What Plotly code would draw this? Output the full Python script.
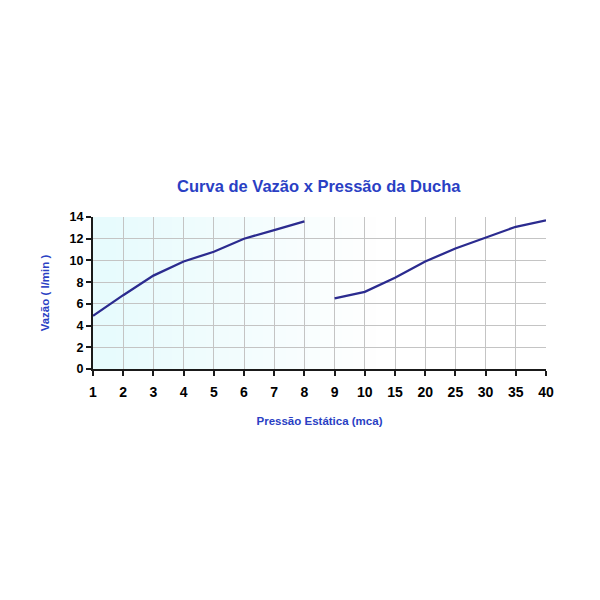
import plotly.graph_objects as go

# pressure categories (mca), evenly spaced on the axis
pressao_1 = ["1", "2", "3", "4", "5", "6", "7", "8"]
vazao_1 = [4.9, 6.8, 8.6, 9.9, 10.8, 12.0, 12.8, 13.6]

pressao_2 = ["9", "10", "15", "20", "25", "30", "35", "40"]
vazao_2 = [6.5, 7.1, 8.4, 9.9, 11.1, 12.1, 13.1, 13.7]

categorias = pressao_1 + pressao_2
y_ticks = [0, 2, 4, 6, 8, 10, 12, 14]

line_color = "#2b2b8f"
blue_text = "#2a3fc4"

fig = go.Figure()
fig.add_trace(go.Scatter(x=pressao_1, y=vazao_1, mode="lines",
                         line=dict(color=line_color, width=2.3), showlegend=False))
fig.add_trace(go.Scatter(x=pressao_2, y=vazao_2, mode="lines",
                         line=dict(color=line_color, width=2.3), showlegend=False))

# light cyan -> white horizontal gradient behind the grid
n = 40
shapes = []
for i in range(n):
    t = i / (n - 1)
    f = min(t / 0.62, 1.0)
    r = int(231 + (255 - 231) * f)
    g = int(251 + (255 - 251) * f)
    b = int(253 + (255 - 253) * f)
    shapes.append(dict(type="rect", xref="x domain", yref="y domain",
                       x0=i / n, x1=(i + 1) / n + 0.002, y0=0, y1=1,
                       fillcolor=f"rgb({r},{g},{b})", line=dict(width=0),
                       layer="below"))

font_family = "Liberation Sans, Arial"

fig.update_layout(
    width=600, height=600,
    paper_bgcolor="white", plot_bgcolor="white",
    margin=dict(l=85, r=62, t=209, b=239),
    title=dict(text="Curva de Vazão x Pressão da Ducha", x=0.518, xanchor="center",
               y=0.703, yanchor="middle",
               font=dict(family=font_family, size=16.5, color=blue_text, weight="bold")),
    shapes=shapes,
    xaxis=dict(type="category", categoryorder="array", categoryarray=categorias,
               range=[0, len(categorias) - 1], showgrid=True, gridcolor="#c4c4c4", gridwidth=1,
               showline=True, linecolor="#1a1a1a", linewidth=2,
               ticks="outside", ticklen=5, tickwidth=2, tickcolor="#1a1a1a",
               tickfont=dict(family=font_family, size=14, color="black", weight="bold"),
               ticklabelstandoff=4, zeroline=False,
               title=dict(text="Pressão Estática (mca)", standoff=18,
                          font=dict(family=font_family, size=11.5, color=blue_text, weight="bold"))),
    yaxis=dict(range=[0, 14], tickvals=y_ticks, showgrid=True, gridcolor="#c4c4c4", gridwidth=1,
               showline=True, linecolor="#1a1a1a", linewidth=2,
               ticks="outside", ticklen=5, tickwidth=2, tickcolor="#1a1a1a",
               tickfont=dict(family=font_family, size=12.5, color="black", weight="bold"),
               zeroline=False,
               title=dict(text="Vazão ( l/min )", standoff=18,
                          font=dict(family=font_family, size=11.5, color=blue_text, weight="bold"))),
)

fig.write_html("out.html")
